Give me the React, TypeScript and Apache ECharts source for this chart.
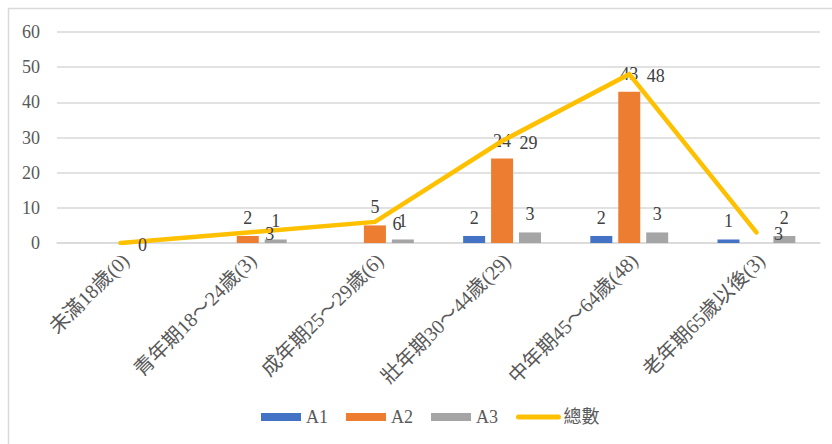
import React, { useEffect, useRef } from "react";
import * as echarts from "echarts";

const categories = [
  "未滿18歲(0)",
  "青年期18～24歲(3)",
  "成年期25～29歲(6)",
  "壯年期30～44歲(29)",
  "中年期45～64歲(48)",
  "老年期65歲以後(3)",
];
const seriesA1: (number | null)[] = [null, null, null, 2, 2, 1];
const seriesA2: (number | null)[] = [null, 2, 5, 24, 43, null];
const seriesA3: (number | null)[] = [null, 1, 1, 3, 3, 2];
const seriesTotal: number[] = [0, 3, 6, 29, 48, 3];
const yTicks = { min: 0, max: 60, interval: 10 };

const FONT = "'Liberation Serif', 'Noto Sans CJK TC', serif";

export default function App() {
  const ref = useRef<HTMLDivElement>(null);
  useEffect(() => {
    if (!ref.current) return;
    const chart = echarts.init(ref.current, null, { renderer: "svg" });
    const barLabel = {
      show: true,
      position: "top" as const,
      distance: 8,
      fontFamily: FONT,
      fontSize: 18,
      color: "#404040",
      lineHeight: 20,
    };
    chart.setOption({
      animation: false,
      backgroundColor: "#ffffff",
      textStyle: { fontFamily: FONT },
      graphic: [
        {
          type: "rect",
          shape: { x: 8.5, y: 8.5, width: 900, height: 600 },
          style: { fill: "none", stroke: "#D9D9D9", lineWidth: 1.5 },
          silent: true,
          z: -10,
        },
      ],
      grid: { left: 57, right: 12, top: 32, bottom: 201, containLabel: false },
      legend: {
        left: 261,
        top: 408,
        padding: 0,
        itemWidth: 40,
        itemHeight: 8,
        itemGap: 18,
        textStyle: { fontFamily: FONT, fontSize: 18, color: "#595959" },
        data: [
          { name: "A1", icon: "rect" },
          { name: "A2", icon: "rect" },
          { name: "A3", icon: "rect" },
          {
            name: "總數",
            itemStyle: { opacity: 0 },
            lineStyle: { width: 5, color: "#FFC000", cap: "round" },
          },
        ],
      },
      xAxis: {
        type: "category",
        data: categories,
        boundaryGap: true,
        axisLine: { lineStyle: { color: "#D9D9D9", width: 1.5 } },
        axisTick: { show: false },
        axisLabel: {
          rotate: 45,
          margin: 19,
          interval: 0,
          padding: [0, -7, 0, 0],
          fontFamily: FONT,
          fontSize: 20,
          color: "#595959",
        },
      },
      yAxis: {
        type: "value",
        min: yTicks.min,
        max: yTicks.max,
        interval: yTicks.interval,
        axisLine: { show: false },
        axisTick: { show: false },
        splitLine: { lineStyle: { color: "#D9D9D9", width: 1.5 } },
        axisLabel: {
          margin: 17,
          fontFamily: FONT,
          fontSize: 18,
          color: "#595959",
        },
      },
      series: [
        {
          name: "A1",
          type: "bar",
          data: seriesA1,
          barWidth: 22,
          barGap: "27%",
          itemStyle: { color: "#4472C4" },
          label: barLabel,
        },
        {
          name: "A2",
          type: "bar",
          data: seriesA2,
          barWidth: 22,
          barGap: "27%",
          itemStyle: { color: "#ED7D31" },
          label: barLabel,
        },
        {
          name: "A3",
          type: "bar",
          data: seriesA3,
          barWidth: 22,
          barGap: "27%",
          itemStyle: { color: "#A5A5A5" },
          label: barLabel,
        },
        {
          name: "總數",
          type: "line",
          data: seriesTotal,
          showSymbol: true,
          symbol: "circle",
          symbolSize: 1,
          z: 5,
          lineStyle: { color: "#FFC000", width: 4.5, cap: "round", join: "miter" },
          itemStyle: { color: "#FFC000" },
          label: {
            show: true,
            position: "right",
            distance: 17,
            offset: [0, 2],
            fontFamily: FONT,
            fontSize: 18,
            color: "#404040",
          },
        },
      ],
    });
    return () => chart.dispose();
  }, []);
  return (
    <div
      ref={ref}
      style={{ position: "fixed", left: 0, top: 0, width: 832, height: 444 }}
    />
  );
}
